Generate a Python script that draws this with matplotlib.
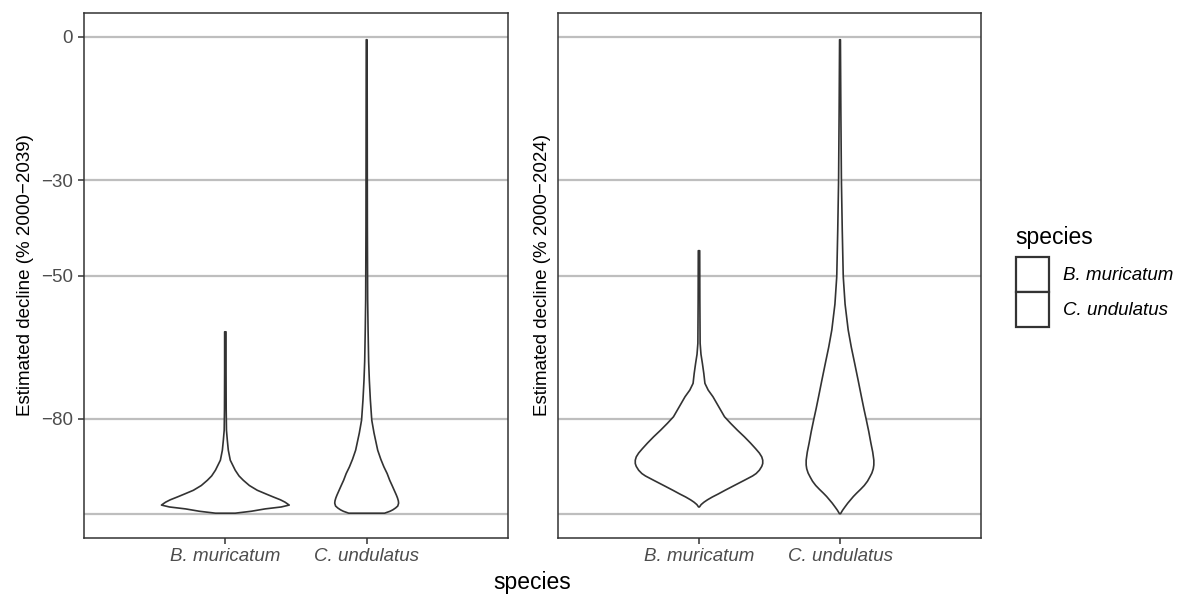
import matplotlib
matplotlib.use("Agg")
import matplotlib.pyplot as plt
from matplotlib.patches import Patch
import numpy as np

plt.rcParams['font.family'] = ['Liberation Sans', 'DejaVu Sans']

species = ["B. muricatum", "C. undulatus"]
ylabels = ["Estimated decline (% 2000\u22122039)", "Estimated decline (% 2000\u22122024)"]
grid_vals = [0, -30, -50, -80, -100]
tick_vals = [0, -30, -50, -80]
tick_labels = ["0", "\u221230", "\u221250", "\u221280"]

# Violin profiles: decline value (y) and half-width (x data units)
# Panel 1 (2000-2039)
p1_bm_y = [-61.8, -70, -78, -82.4, -84.5, -86.6, -88.7, -90.8, -92.0, -92.9, -94.0, -95.0,
           -95.8, -96.4, -97.0, -97.5, -98.1, -98.5, -98.9, -99.4, -99.8]
p1_bm_w = [0.005, 0.005, 0.006, 0.008, 0.014, 0.021, 0.035, 0.070, 0.097, 0.127, 0.170, 0.226,
           0.290, 0.339, 0.390, 0.423, 0.452, 0.395, 0.282, 0.183, 0.070]
p1_cu_y = [-0.6, -20, -40, -55, -61.4, -68, -72, -76, -80.3, -83, -86.6, -88.5, -90.1, -91.5,
           -92.9, -94.0, -95, -96.0, -96.6, -97.2, -97.7, -98.3, -98.7, -99.1, -99.4, -99.8]
p1_cu_w = [0.003, 0.004, 0.005, 0.007, 0.010, 0.014, 0.019, 0.026, 0.036, 0.052, 0.078, 0.100,
           0.122, 0.145, 0.163, 0.180, 0.195, 0.210, 0.218, 0.224, 0.226, 0.220, 0.205, 0.185,
           0.165, 0.127]
# Panel 2 (2000-2024)
p2_bm_y = [-44.8, -55, -64.2, -66.5, -68.4, -70.5, -72.6, -74.0, -75.4, -77.5, -79.6, -81.0,
           -82.4, -83.8, -85.1, -86.3, -87.2, -88.0, -88.7, -89.4, -90.0, -90.8, -91.5, -92.0,
           -92.9, -94.0, -95.0, -95.8, -96.4, -97.0, -97.5, -98.0, -98.5]
p2_bm_w = [0.005, 0.006, 0.008, 0.014, 0.024, 0.034, 0.042, 0.065, 0.099, 0.140, 0.181, 0.225,
           0.272, 0.322, 0.365, 0.402, 0.428, 0.445, 0.452, 0.452, 0.445, 0.428, 0.405, 0.380,
           0.322, 0.250, 0.185, 0.135, 0.095, 0.060, 0.035, 0.015, 0.003]
p2_cu_y = [-0.6, -15, -30, -40.5, -50.2, -56, -61.4, -65.0, -68.4, -72.0, -75.4, -78.0, -80.3,
           -82.7, -85.1, -87.0, -88.7, -89.7, -90.5, -91.4, -92.2, -93.1, -94.0, -94.8, -95.6,
           -96.3, -97.0, -97.7, -98.5, -99.2, -99.9]
p2_cu_w = [0.003, 0.006, 0.010, 0.016, 0.023, 0.036, 0.058, 0.080, 0.104, 0.129, 0.152, 0.170,
           0.187, 0.204, 0.219, 0.232, 0.240, 0.240, 0.236, 0.226, 0.212, 0.195, 0.172, 0.146,
           0.118, 0.095, 0.075, 0.055, 0.035, 0.018, 0.004]

panels = [
    [(p1_bm_y, p1_bm_w), (p1_cu_y, p1_cu_w)],
    [(p2_bm_y, p2_bm_w), (p2_cu_y, p2_cu_w)],
]

W, H = 1185, 597
fig = plt.figure(figsize=(W / 100, H / 100), dpi=100)
fig.patch.set_facecolor("white")

axes_px = [(84, 13, 508, 538), (558, 13, 981, 538)]
dark = "#333333"
grid_c = "#BEBEBE"
tick_c = "#4D4D4D"

for i, (x0, y0, x1, y1) in enumerate(axes_px):
    ax = fig.add_axes([x0 / W, (H - y1) / H, (x1 - x0) / W, (y1 - y0) / H])
    ax.set_xlim(0, 3)
    ax.set_ylim(-105, 5)
    for g in grid_vals:
        ax.axhline(g, color=grid_c, lw=1.6, zorder=0)
    for k, (yy, ww) in enumerate(panels[i]):
        yy = np.asarray(yy)
        ww = np.asarray(ww)
        xc = k + 1
        xs = np.concatenate([xc - ww, (xc + ww)[::-1]])
        ys = np.concatenate([yy, yy[::-1]])
        ax.fill(xs, ys, facecolor="white", edgecolor=dark, lw=1.2, zorder=2,
                joinstyle="round")
    for s in ax.spines.values():
        s.set_color(dark)
        s.set_linewidth(1.1)
    ax.set_xticks([1, 2])
    ax.set_xticklabels(species, fontstyle="italic", color=tick_c, fontsize=13.5)
    ax.tick_params(axis="x", length=4, width=1.1, color=dark, pad=3)
    if i == 0:
        ax.set_yticks(tick_vals)
        ax.set_yticklabels(tick_labels, color=tick_c, fontsize=13.5)
        ax.tick_params(axis="y", length=4, width=1.1, color=dark, pad=4)
    else:
        ax.set_yticks([])
    ax.set_ylabel(ylabels[i], fontsize=13.5, color="black", labelpad=5 if i == 0 else 5)

fig.text(532.5 / W, 1 - 582 / H, "species", ha="center", va="center", fontsize=16.5)

handles = [Patch(facecolor="white", edgecolor=dark, lw=1.6) for _ in species]
leg = fig.legend(handles, species, loc="upper left", bbox_to_anchor=(1012 / W, 1 - 222 / H),
                 frameon=False, title="species", title_fontsize=16.5,
                 prop={"style": "italic", "size": 13.5},
                 handlelength=1.76, handleheight=2.5, labelspacing=0.0,
                 handletextpad=0.75, borderaxespad=0, borderpad=0.2)
leg._legend_box.align = "left"
leg._legend_box.sep = 6

fig.savefig("out.png", dpi=100)
